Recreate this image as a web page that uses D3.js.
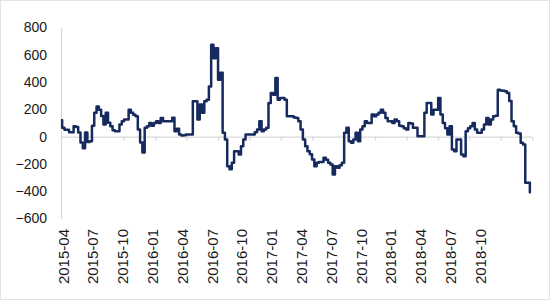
<!DOCTYPE html>
<html>
<head>
<meta charset="utf-8">
<script src="https://cdn.jsdelivr.net/npm/d3@7"></script>
<style>
  html, body { margin: 0; padding: 0; background: #ffffff; }
  svg { display: block; }
</style>
</head>
<body>
<svg id="chart" width="550" height="300"></svg>
<script>
// ---- data (weekly observations, index 0 = first week of 2015-04) ----
const values = [
  119, 65, 50, 50, 31, 31, 75, 70, 29, -44,
  -85, 29, -40, -34, 80, 174, 221, 197, 150, 88,
  175, 101, 75, 46, 39, 39, 88, 112, 124, 124,
  197, 175, 160, 148, 51, -44, -117, 65, 75, 100,
  80, 100, 112, 100, 135, 112, 112, 112, 112, 137,
  39, 58, 15, 7, 10, 15, 15, 15, 258, 258,
  124, 234, 175, 258, 270, 367, 672, 574, 647, 416,
  467, 27, -22, -217, -240, -192, -107, -107, -131, -71,
  -22, 15, 15, 15, 15, 31, 51, 112, 39, 51,
  65, 246, 319, 307, 428, 270, 282, 282, 270, 148,
  148, 148, 140, 136, 112, 51, -22, -71, -107, -130,
  -168, -217, -192, -187, -187, -156, -170, -192, -204, -277,
  -217, -229, -210, -192, 27, 65, -34, -46, -22, 27,
  -34, 51, 75, 112, 100, 100, 161, 148, 161, 175,
  197, 175, 136, 112, 112, 100, 124, 112, 80, 75,
  60, 51, 100, 95, 65, 65, 2, 2, 2, 175,
  246, 246, 161, 197, 197, 282, 161, 100, 60, 15,
  75, -95, -107, -22, -22, -131, -144, 39, 60, 75,
  100, 51, 27, 27, 51, 88, 136, 88, 124, 148,
  153, 343, 338, 335, 331, 319, 260, 112, 75, 27,
  22, -46, -58, -338, -338, -407
];
const xLabels = ["2015-04","2015-07","2015-10","2016-01","2016-04","2016-07","2016-10",
                 "2017-01","2017-04","2017-07","2017-10","2018-01","2018-04","2018-07","2018-10"];
const labelStep = 13;     // weeks between labels
const tickStep = 13.7;    // spacing of axis tick marks (in weeks)
const yTicks = [800, 600, 400, 200, 0, -200, -400, -600];

(function draw() {
  const svg = d3.select("#chart");
  const W = 550, H = 300;
  const mLeft = 61, mRight = 531, mTop = 27.3, mBottom = 218.5;

  svg.append("rect").attr("x", 0.5).attr("y", 0.5).attr("width", W - 1).attr("height", H - 1)
    .attr("fill", "#ffffff").attr("stroke", "#e3e3e3");

  const x = d3.scaleLinear().domain([0, values.length - 1]).range([mLeft, mRight]);
  const y = d3.scaleLinear().domain([-600, 800]).range([mBottom, mTop]);

  const axisColor = "#d9d9d9";
  const font = "'Liberation Sans', Arial, sans-serif";

  // y axis
  const yAxis = d3.axisLeft(y).tickValues(yTicks).tickSize(0).tickPadding(14)
    .tickFormat(d3.format("d"));
  const gy = svg.append("g").attr("transform", `translate(${mLeft},0)`).call(yAxis);
  gy.select(".domain").attr("stroke", axisColor).attr("stroke-width", 1.3);
  gy.selectAll("text").attr("font-family", font).attr("font-size", 14).attr("fill", "#1a1a1a");

  // x axis along zero line (tick marks)
  const tickVals = d3.range(0, values.length, tickStep);
  const xAxis = d3.axisBottom(x).tickValues(tickVals).tickSize(4).tickSizeOuter(0).tickFormat("");
  const gx = svg.append("g").attr("transform", `translate(0,${y(0)})`).call(xAxis);
  gx.select(".domain").attr("stroke", axisColor).attr("stroke-width", 1.3);
  gx.selectAll(".tick line").attr("stroke", axisColor).attr("stroke-width", 1.3);

  // x labels (rotated)
  const labelY = 229;
  svg.append("g").selectAll("text")
    .data(xLabels)
    .join("text")
    .attr("transform", (d, i) => `translate(${x(i * labelStep) + 7.5},${labelY}) rotate(-90)`)
    .attr("text-anchor", "end")
    .attr("font-family", font)
    .attr("font-size", 15)
    .attr("fill", "#1a1a1a")
    .text(d => d);

  // line
  const line = d3.line()
    .x((d, i) => x(i))
    .y(d => y(d))
    .curve(d3.curveStep);

  svg.append("path")
    .datum(values)
    .attr("d", line)
    .attr("fill", "none")
    .attr("stroke", "#172a5e")
    .attr("stroke-width", 2.5)
    .attr("stroke-linejoin", "round");
})();
</script>
</body>
</html>
